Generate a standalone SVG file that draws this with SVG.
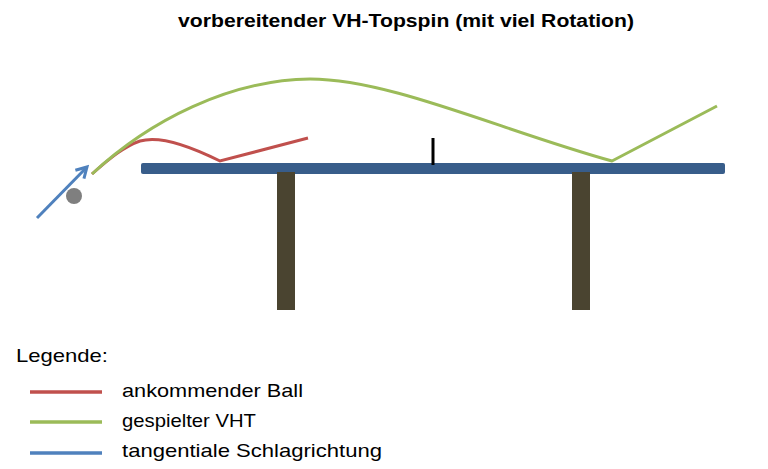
<svg xmlns="http://www.w3.org/2000/svg" width="768" height="469" viewBox="0 0 768 469">
<style>
.t{font-family:"Liberation Sans",Arial,sans-serif;fill:#000}
.leg{font-family:"Liberation Sans",Arial,sans-serif;font-size:19px;fill:#000}
.red{stroke:#c0504d;stroke-width:3;fill:none}
.green{stroke:#9bbb59;stroke-width:3;fill:none}
.blue{stroke:#4f81bd;stroke-width:3;fill:none}
.leg-line{stroke-width:3.5}
</style>
<defs>
<marker id="arr" viewBox="0 0 10 10" refX="8" refY="5" markerWidth="5" markerHeight="5" orient="auto">
<path d="M1,1 L8,5 L1,9" fill="none" stroke="#4f81bd" stroke-width="2"/>
</marker>
</defs>
<rect width="768" height="469" fill="#fff"/>
<text class="t" x="178" y="27" font-size="18" font-weight="bold" textLength="456" lengthAdjust="spacingAndGlyphs">vorbereitender VH-Topspin (mit viel Rotation)</text>
<g id="table">
<rect x="141" y="163" width="584" height="11" rx="2" fill="#385d8a"/>
</g>
<g id="leg-left"><rect x="277" y="172" width="18" height="138" fill="#4a4430"/></g>
<g id="leg-right"><rect x="572" y="172" width="18" height="138" fill="#4a4430"/></g>
<g id="net"><line x1="433" y1="138" x2="433" y2="165" stroke="#000" stroke-width="3"/></g>
<g id="ball"><circle cx="74" cy="196" r="8" fill="#7f7f7f"/></g>
<g id="connectors">
<path class="red" d="M92,174 C110,158 125,146 140,141 C160,135 190,146 220,161 L308,138"/>
<path class="green" d="M92,174 C150,120 230,80 310,79 C390,79 500,130 612,161 L717,106"/>
<line class="blue" x1="37" y1="218" x2="87" y2="167" marker-end="url(#arr)"/>
</g>
<g id="legend">
<text class="leg" x="16" y="362" textLength="92" lengthAdjust="spacingAndGlyphs">Legende:</text>
<line class="red leg-line" x1="30" y1="392" x2="102" y2="392"/>
<text class="leg" x="122" y="397" textLength="181" lengthAdjust="spacingAndGlyphs">ankommender Ball</text>
<line class="green leg-line" x1="30" y1="422" x2="102" y2="422"/>
<text class="leg" x="122" y="427" textLength="134" lengthAdjust="spacingAndGlyphs">gespielter VHT</text>
<line class="blue leg-line" x1="30" y1="453" x2="102" y2="453"/>
<text class="leg" x="122" y="457" textLength="260" lengthAdjust="spacingAndGlyphs">tangentiale Schlagrichtung</text>
</g>
</svg>
